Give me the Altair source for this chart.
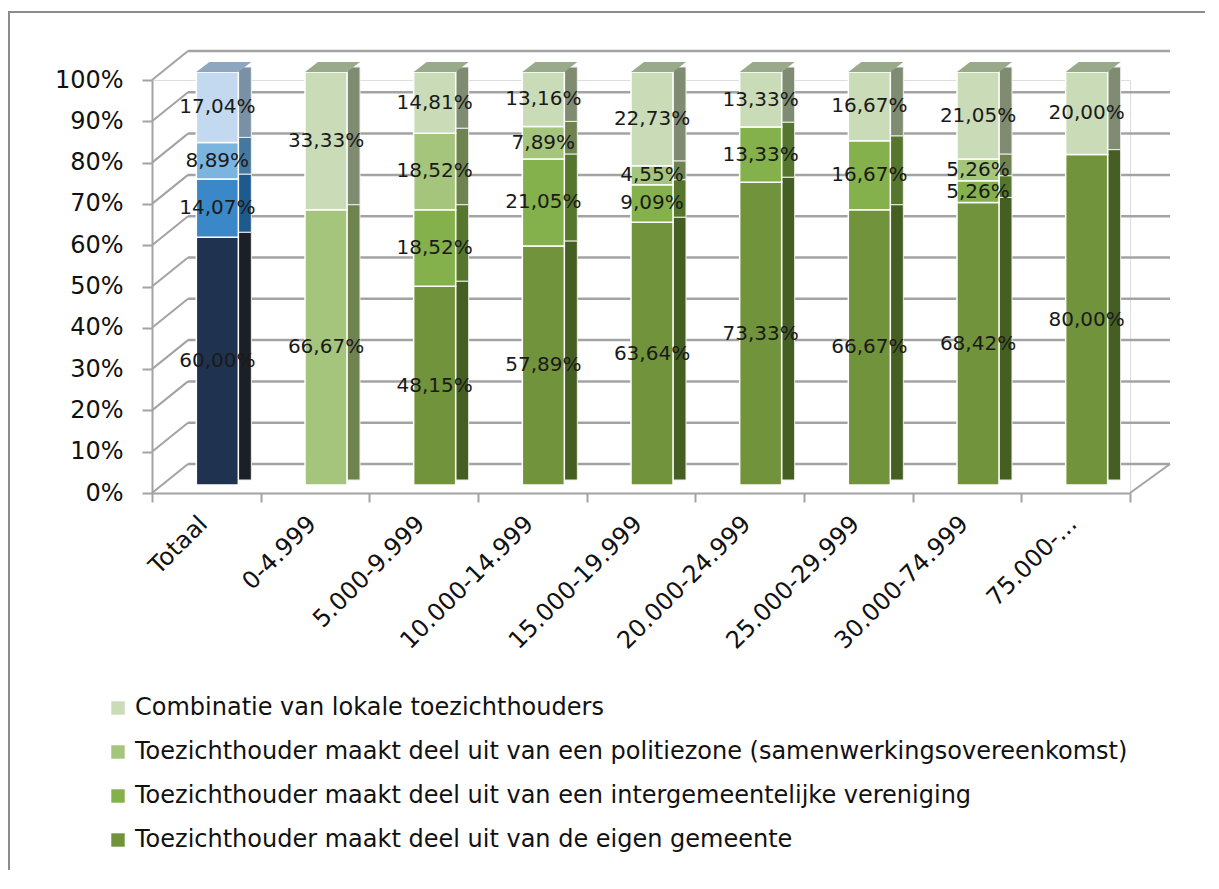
import altair as alt
import pandas as pd

# ---------------- data ----------------
categories = ["Totaal", "0-4.999", "5.000-9.999", "10.000-14.999", "15.000-19.999",
              "20.000-24.999", "25.000-29.999", "30.000-74.999", "75.000-..."]
series_names = [
    "Toezichthouder maakt deel uit van de eigen gemeente",
    "Toezichthouder maakt deel uit van een intergemeentelijke vereniging",
    "Toezichthouder maakt deel uit van een politiezone (samenwerkingsovereenkomst)",
    "Combinatie van lokale toezichthouders",
]
eigen = [60.00, 0, 48.15, 57.89, 63.64, 73.33, 66.67, 68.42, 80.00]
inter = [14.07, 0, 18.52, 21.05, 9.09, 13.33, 16.67, 5.26, 0]
politie = [8.89, 66.67, 18.52, 7.89, 4.55, 0, 0, 5.26, 0]
combinatie = [17.04, 33.33, 14.81, 13.16, 22.73, 13.33, 16.67, 21.05, 20.00]
y_ticks = [0, 10, 20, 30, 40, 50, 60, 70, 80, 90, 100]

# ---------------- colours ----------------
green_front = ["#71933b", "#84b14b", "#a6c57c", "#c9dbb7"]
blue_front = ["#1f3350", "#3a88c8", "#7cb4e0", "#c3d9ef"]
green_side = ["#455e22", "#56762d", "#6e8350", "#7f8c72"]
blue_side = ["#1b1f27", "#1d5b8f", "#44789f", "#7a90a4"]
top_green = "#98aa8a"
top_blue = "#8ea7c1"

FONT = "DejaVu Sans"
GRID = "#a3a3a3"

all_series = [eigen, inter, politie, combinatie]
rows = []
for ci, cat in enumerate(categories):
    grp = "T" if cat == "Totaal" else "G"
    for si, name in enumerate(series_names):
        v = all_series[si][ci]
        rows.append({
            "cat": cat,
            "s_idx": si,
            "series": name,
            "value": v,
            "label": (f"{v:.2f}".replace(".", ",") + "%"),
            "front_key": name if grp == "G" else name + " | T",
            "side_key": name + " | side" if grp == "G" else name + " | T side",
            "top_key": "top" if grp == "G" else "top T",
        })
df = pd.DataFrame(rows)

domain = (series_names
          + [n + " | T" for n in series_names]
          + [n + " | side" for n in series_names]
          + [n + " | T side" for n in series_names]
          + ["top", "top T"])
rng = green_front + blue_front + green_side + blue_side + [top_green, top_blue]

legend = alt.Legend(
    values=series_names[::-1], title=None, orient="none", legendX=-46, legendY=616,
    direction="vertical", symbolType="square", symbolSize=180, symbolStrokeWidth=0,
    labelFont=FONT, labelFontSize=24, labelColor="#111111", labelLimit=1500,
    rowPadding=20, labelOffset=5,
)
color_scale = alt.Scale(domain=domain, range=rng)

W, H = 978, 413
yscale = alt.Scale(domain=[0, 100], nice=False)
xscale = alt.Scale(domain=categories, paddingInner=0, paddingOuter=0)

x_axis = alt.Axis(
    title=None, labelAngle=315, labelAlign="right", labelBaseline="middle",
    labelPadding=18, labelOffset=-3, tickBand="extent", tickSize=9, tickWidth=2,
    tickColor=GRID, domainColor=GRID, domainWidth=2, labelFont=FONT,
    labelFontSize=24, labelColor="#111111", grid=False,
)
y_axis = alt.Axis(
    title=None, values=y_ticks, labelExpr="datum.value + '%'", tickSize=10,
    tickWidth=2, tickColor=GRID, domainColor=GRID, domainWidth=2,
    labelPadding=19, labelFont=FONT, labelFontSize=24, labelColor="#111111",
    grid=False,
)

xenc = alt.X("cat:N", sort=categories, axis=x_axis, scale=xscale)


def yenc(field):
    return alt.Y(field, scale=yscale, axis=y_axis)


base = (
    alt.Chart(df)
    .transform_stack(stack="value", groupby=["cat"], as_=["y0", "y1"],
                     sort=[alt.SortField("s_idx", order="ascending")])
    .transform_calculate(mid="(datum.y0 + datum.y1) / 2")
)

ticks_df = pd.DataFrame({"v": y_ticks})
floor_df = pd.DataFrame({"v": [0]})

# outer chart frame: top and left edges as thin filled rects
frame_v = alt.Chart(floor_df).mark_rect(color="#8c8c8c", strokeWidth=0).encode(
    x=alt.value(-144), x2=alt.value(-142), y=alt.value(-69), y2=alt.value(790),
)
frame_h = alt.Chart(floor_df).mark_rect(color="#8c8c8c", strokeWidth=0).encode(
    x=alt.value(-144), x2=alt.value(1060), y=alt.value(-69), y2=alt.value(-67),
)

# back wall grid lines
wall = alt.Chart(ticks_df).mark_rule(color=GRID, strokeWidth=2.5, yOffset=-29).encode(
    y=yenc("v:Q"),
    x=alt.value(36), x2=alt.value(1018),
)
# side wall diagonals
diag = alt.Chart(ticks_df).mark_rule(color=GRID, strokeWidth=2, y2Offset=-29).encode(
    y=yenc("v:Q"), y2="v:Q",
    x=alt.value(0), x2=alt.value(36),
)
# floor right edge
floor = alt.Chart(floor_df).mark_rule(color=GRID, strokeWidth=2, y2Offset=-29).encode(
    y=yenc("v:Q"), y2="v:Q",
    x=alt.value(W), x2=alt.value(1018),
)

side = base.transform_filter("datum.value > 0").mark_bar(
    width=13, xOffset=38.5, yOffset=-13, y2Offset=-13, stroke="#eeeeee", strokeWidth=1
).encode(
    x=xenc,
    y=yenc("y0:Q"), y2="y1:Q",
    color=alt.Color("side_key:N", scale=color_scale, legend=legend),
)

front = base.transform_filter("datum.value > 0").mark_bar(
    width=42, xOffset=11, yOffset=-8, y2Offset=-8, stroke="white", strokeWidth=1.5
).encode(
    x=xenc,
    y=yenc("y0:Q"), y2="y1:Q",
    color=alt.Color("front_key:N", scale=color_scale, legend=legend),
)

top_shape = "M -1 0.1818 L 0.5273 0.1818 L 1 -0.1818 L -0.5273 -0.1818 Z"
top = base.transform_filter("datum.s_idx == 3").mark_point(
    shape=top_shape, size=3025, filled=True, opacity=1, strokeWidth=0,
    xOffset=17.5, yOffset=-13,
).encode(
    x=xenc,
    y=yenc("y1:Q"),
    color=alt.Color("top_key:N", scale=color_scale, legend=legend),
)

labels = base.transform_filter("datum.value > 0").mark_text(
    font=FONT, fontSize=20, color="#1a1a1a", xOffset=11, yOffset=-8,
    align="center", baseline="middle",
).encode(
    x=xenc,
    y=yenc("mid:Q"),
    text="label:N",
)

chart = (
    alt.layer(frame_v, frame_h, wall, diag, floor, side, front, top, labels)
    .properties(
        width=W, height=H,
        autosize=alt.AutoSizeParams(type="none"),
        padding={"left": 144, "top": 72, "right": 75, "bottom": 380},
    )
    .configure_view(stroke=None)
    .configure(background="white")
)

chart.save("out.html", embed_options={"renderer": "svg", "actions": False})
